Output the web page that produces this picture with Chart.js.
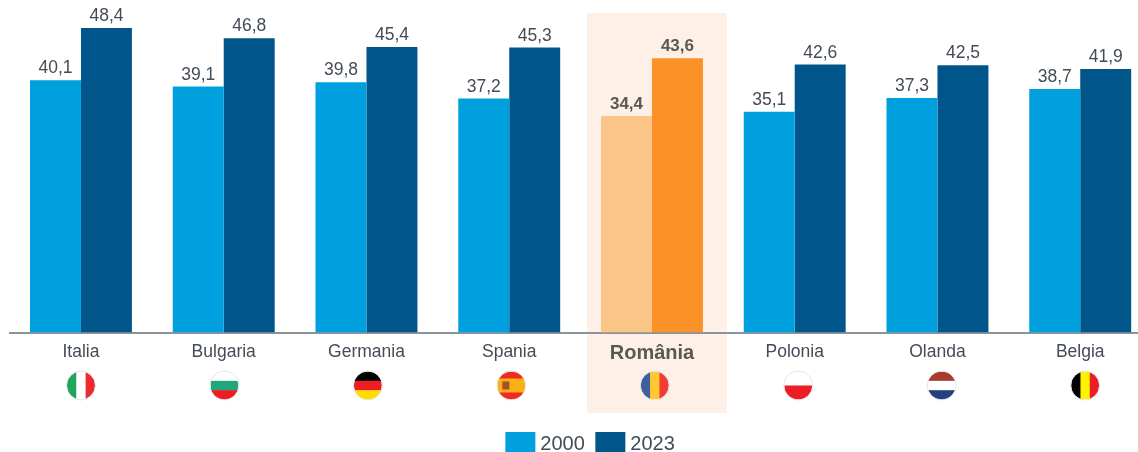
<!DOCTYPE html>
<html lang="ro">
<head>
    <meta charset="UTF-8">
    <title>Italia, Bulgaria, Germania 2000 / 2023</title>
    <script src="https://cdn.jsdelivr.net/npm/chart.js"></script>
    <style>
        html, body { margin: 0; padding: 0; background: #fff; overflow: hidden; width: 1138px; height: 452px; }
        canvas { display: block; }
    </style>
</head>
<body>
    <!-- wider than the window on purpose: the last category runs off the right edge in the original -->
    <canvas id="chart" width="1152" height="464"></canvas>

    <script>
        const countries = ["Italia", "Bulgaria", "Germania", "Spania", "România", "Polonia", "Olanda", "Belgia"];
        const years = ["2000", "2023"];
        const values2000 = [40.1, 39.1, 39.8, 37.2, 34.4, 35.1, 37.3, 38.7];
        const values2023 = [48.4, 46.8, 45.4, 45.3, 43.6, 42.6, 42.5, 41.9];
        const highlighted = "România";

        const FONT = "'Liberation Sans', Arial, sans-serif";
        const TEXT = "#434C56";
        const TEXT_HL = "#595954";

        // dir: h = horizontal stripes, v = vertical
        const flags = {
            "Italia": { dir: "v", colors: ["#1FA65A", "#FFFFFF", "#EE2A2E"] },
            "Bulgaria": { dir: "h", colors: ["#FFFFFF", "#1FA77A", "#EE1C25"] },
            "Germania": { dir: "h", colors: ["#000000", "#EE1C25", "#FFDD00"] },
            "Spania": { dir: "h", colors: ["#EE2A24", "#FBB116", "#FBB116", "#EE2A24"] },
            "România": { dir: "v", colors: ["#3F5F9F", "#FFC82E", "#F23D35"] },
            "Polonia": { dir: "h", colors: ["#FFFFFF", "#EE1C25"] },
            "Olanda": { dir: "h", colors: ["#A83A2E", "#FFFFFF", "#24437C"] },
            "Belgia": { dir: "v", colors: ["#000000", "#FFF200", "#EE1C25"] }
        };

        function isHighlighted(i) {
            return countries[i] === highlighted;
        }

        // legend is off-centre in the original
        const legendShift = {
            id: "legendShift",
            afterLayout(chart) {
                chart.legend.left += 12;
                chart.legend.right += 12;
            }
        };

        const highlightPanel = {
            id: "highlightPanel",
            beforeDraw(chart) {
                const x = chart.scales.x.getPixelForValue(countries.indexOf(highlighted));
                const c = chart.ctx;
                c.save();
                c.fillStyle = "#FEF0E6";
                c.fillRect(x - 65, 13, 140, 400);
                c.restore();
            }
        };

        const valueLabels = {
            id: "valueLabels",
            afterDatasetsDraw(chart) {
                const c = chart.ctx;
                c.save();
                c.textAlign = "center";
                c.textBaseline = "bottom";
                chart.data.datasets.forEach((ds, d) => {
                    chart.getDatasetMeta(d).data.forEach((bar, i) => {
                        const hl = isHighlighted(i);
                        c.font = (hl ? "bold 17px " : "17.5px ") + FONT;
                        c.fillStyle = hl ? TEXT_HL : TEXT;
                        c.fillText(ds.data[i].toFixed(1).replace(".", ","), bar.x, bar.y - 3);
                    });
                });
                c.restore();
            }
        };

        const flagIcons = {
            id: "flagIcons",
            afterDraw(chart) {
                const c = chart.ctx;
                const r = 14;
                const cy = 385.5;
                countries.forEach((name, i) => {
                    const f = flags[name];
                    // the flags sit on a slightly wider spacing than the bars
                    const cx = chart.scales.x.getPixelForValue(i) + i * 0.7;
                    c.save();
                    c.beginPath();
                    c.arc(cx, cy, r, 0, Math.PI * 2);
                    c.clip();
                    const n = f.colors.length;
                    f.colors.forEach((col, k) => {
                        c.fillStyle = col;
                        if (f.dir === "h") {
                            c.fillRect(cx - r, cy - r + k * 2 * r / n, 2 * r, 2 * r / n + 0.5);
                        } else {
                            c.fillRect(cx - r + k * 2 * r / n, cy - r, 2 * r / n + 0.5, 2 * r);
                        }
                    });
                    if (name === "Spania") {
                        // small coat of arms
                        c.fillStyle = "#A5502A";
                        c.fillRect(cx - 9, cy - 4, 7, 8);
                    }
                    c.restore();
                    c.beginPath();
                    c.arc(cx, cy, r + 0.5, 0, Math.PI * 2);
                    c.strokeStyle = "#E4E4E4";
                    c.lineWidth = 1;
                    c.stroke();
                });
            }
        };

        new Chart(document.getElementById("chart"), {
            type: "bar",
            data: {
                labels: countries,
                datasets: [
                    {
                        label: years[0],
                        data: values2000,
                        backgroundColor: ctx => isHighlighted(ctx.dataIndex) ? "#FBC588" : "#00A0DF"
                    },
                    {
                        label: years[1],
                        data: values2023,
                        backgroundColor: ctx => isHighlighted(ctx.dataIndex) ? "#FB9228" : "#00568A"
                    }
                ]
            },
            plugins: [legendShift, highlightPanel, valueLabels, flagIcons],
            options: {
                responsive: false,
                animation: false,
                layout: { padding: { left: 9.6, right: 0.4, top: 18, bottom: 0 } },
                datasets: {
                    bar: { barPercentage: 1, categoryPercentage: 0.714, borderWidth: 0 }
                },
                scales: {
                    x: {
                        grid: { display: false, drawTicks: false },
                        border: { display: true, color: "#8C949B", width: 2 },
                        afterFit(scale) { scale.height = 86; },
                        ticks: {
                            padding: 9,
                            maxRotation: 0,
                            autoSkip: false,
                            color: ctx => isHighlighted(ctx.index) ? TEXT_HL : TEXT,
                            font: ctx => isHighlighted(ctx.index)
                                ? { family: FONT, size: 20, weight: "bold" }
                                : { family: FONT, size: 17.5 }
                        }
                    },
                    y: { display: false, min: 0, max: 50 }
                },
                plugins: {
                    tooltip: { enabled: false },
                    legend: {
                        position: "bottom",
                        labels: {
                            // box is 20 wide plus a 10px stroke, keeps the text close to the swatch
                            boxWidth: 20,
                            boxHeight: 14,
                            padding: 15.5,
                            color: TEXT,
                            font: { family: FONT, size: 20 },
                            generateLabels(chart) {
                                return chart.data.datasets.map((ds, i) => {
                                    const col = i === 0 ? "#00A0DF" : "#00568A";
                                    return {
                                        text: ds.label,
                                        fillStyle: col,
                                        strokeStyle: col,
                                        lineWidth: 10,
                                        fontColor: TEXT,
                                        datasetIndex: i
                                    };
                                });
                            }
                        }
                    }
                }
            }
        });
    </script>
</body>
</html>
